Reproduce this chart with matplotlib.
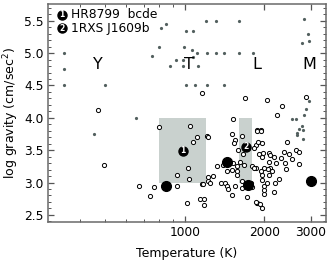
import numpy as np
import matplotlib
matplotlib.use("Agg")
import matplotlib.pyplot as plt
from matplotlib.patches import Rectangle
from matplotlib.ticker import FixedLocator, NullFormatter

# field objects: gray dots (Teff, log g)
dot_teff = [350, 350, 350, 500, 650, 453,
            753, 800, 815, 845,
            1009, 1076, 1203, 1310, 1607,
            994, 1063, 1076, 924, 980, 1108, 1210, 1313, 1409, 1607, 1812,
            876, 985, 1117,
            1006, 1095, 1210, 1409,
            2830, 2914, 2937, 2772,
            2947, 2872, 2830, 2552, 2627, 2763, 2693, 2793, 2651, 2665, 2796]
dot_logg = [5.0, 4.75, 4.5, 4.5, 4.0, 3.75,
            4.95, 5.1, 5.39, 5.45,
            5.34, 5.34, 5.5, 5.5, 5.5,
            5.1, 5.05, 4.94, 4.89, 4.89, 5.0, 5.0, 5.0, 5.0, 5.0, 5.0,
            4.8, 4.8, 4.8,
            4.5, 4.5, 4.5, 4.5,
            5.53, 5.30, 5.19, 5.15,
            4.26, 4.13, 4.05, 3.98, 3.98, 3.87, 3.82, 3.81, 3.76, 3.74, 3.67]

# young objects: open circles
ring_teff = [467, 798, 492, 668, 735, 766,
             1045, 1108, 1210, 1220, 1070, 1024, 930, 1039, 930, 1158, 1228, 1228,
             1015, 1141, 1185, 1185,
             1158, 1685, 2036, 2339, 2225, 1520, 2872,
             1508, 1648, 1866, 1933, 1542, 1530, 1588, 1663, 1850, 1886, 1950, 1818,
             1900, 1962, 1977, 2076, 2094, 2177, 2076, 2208, 2307, 1515, 1575, 1623,
             1671, 1393, 1325, 1796, 1850, 1988, 2107,
             1168, 1282, 1239, 1375, 1421, 1443, 1451, 1542, 1508, 1443, 1575, 1575,
             1508, 1718, 1866, 1880, 1962, 1988, 1988, 2000, 2046, 2171, 1962, 1962,
             2076, 1933, 2062, 2128, 2275, 1818,
             1866, 1946, 2443, 2374, 2468, 2552, 2627, 2703, 2394, 2409, 2703, 2185,
             1860, 1640, 1650, 1780, 1800, 1920]
ring_logg = [4.12, 3.86, 3.27, 2.94, 2.79, 2.93,
             3.87, 3.70, 3.72, 3.70, 3.62, 3.22, 3.11, 3.05, 2.94, 2.98, 3.02, 3.09,
             2.69, 2.75, 2.75, 2.66,
             4.38, 4.31, 4.28, 4.19, 4.04, 3.98, 4.32,
             3.75, 3.72, 3.81, 3.81, 3.66, 3.61, 3.51, 3.44, 3.58, 3.62, 3.61, 3.53,
             3.44, 3.40, 3.45, 3.46, 3.43, 3.40, 3.31, 3.30, 3.38, 3.30, 3.26, 3.31,
             3.27, 3.27, 3.26, 3.26, 3.23, 3.23, 3.23,
             2.98, 3.10, 3.00, 3.00, 2.99, 2.95, 2.90, 2.95, 2.80, 3.18, 3.18, 3.12,
             3.19, 2.77, 2.68, 2.68, 2.60, 2.83, 2.88, 2.95, 2.99, 2.85, 3.04, 3.11,
             3.11, 3.18, 3.21, 3.18, 3.06, 3.23,
             3.80, 3.80, 3.63, 3.47, 3.44, 3.37, 3.50, 3.47, 3.30, 3.21, 3.29, 3.00,
             2.70, 3.02, 2.92, 3.00, 2.93, 2.67]

# big black dots
big_teff = [850, 1443, 1730, 3000]
big_logg = [2.95, 3.32, 2.96, 3.03]

# shaded boxes: (teff_lo, teff_hi), (logg_lo, logg_hi)
box_teff = [(800, 1200), (1600, 1800)]
box_logg = [(3.0, 4.0), (3.0, 4.0)]

# numbered labels for the boxes
num_labels = ["1", "2"]
num_teff = [985, 1710]
num_logg = [3.49, 3.55]

names = ["HR8799  bcde", "1RXS J1609b"]

sp_letters = ["Y", "T", "L", "M"]
sp_teff = [467, 1039, 1878, 2960]
sp_logg = 4.82

fig = plt.figure(figsize=(3.33, 2.63), dpi=100)
ax = fig.add_axes([0.144, 0.156, 0.835, 0.829])

for (t0, t1), (g0, g1) in zip(box_teff, box_logg):
    ax.add_patch(Rectangle((t0, g0), t1 - t0, g1 - g0, facecolor="#c9d1ce",
                           edgecolor="none", zorder=1))

ax.plot(dot_teff, dot_logg, "o", ms=2.3, color="#53605f", mec="none", zorder=2)
ax.plot(ring_teff, ring_logg, "o", ms=3.0, mfc="white", mec="black", mew=0.7, zorder=3)
ax.plot(big_teff, big_logg, "o", ms=7, color="black", zorder=4)

for lab, t, g in zip(num_labels, num_teff, num_logg):
    ax.plot(t, g, "o", ms=6.5, color="black", zorder=5)
    ax.text(t, g, lab, color="white", fontsize=5.5, fontweight="bold",
            ha="center", va="center", zorder=6)

for lab, t in zip(sp_letters, sp_teff):
    ax.text(t, sp_logg, lab, fontsize=11.5, ha="center", va="center", zorder=6)

# legend in the top-left corner
for i, (lab, nm) in enumerate(zip(num_labels, names)):
    yy = 0.95 - i * 0.061
    ax.plot(0.049, yy, "o", ms=6.5, color="black", transform=ax.transAxes,
            clip_on=False, zorder=5)
    ax.text(0.049, yy, lab, color="white", fontsize=5.5, fontweight="bold",
            ha="center", va="center", transform=ax.transAxes, zorder=6)
    ax.text(0.083, yy, nm, fontsize=8.8, ha="left", va="center",
            transform=ax.transAxes)

ax.set_xscale("log")
ax.set_xlim(303, 3420)
ax.set_ylim(2.39, 5.76)

ax.xaxis.set_major_locator(FixedLocator([1000, 2000, 3000]))
ax.xaxis.set_minor_locator(FixedLocator([400, 500, 600, 700, 800, 900]))
ax.set_xticklabels(["1000", "2000", "3000"])
ax.xaxis.set_minor_formatter(NullFormatter())
ax.set_yticks([2.5, 3.0, 3.5, 4.0, 4.5, 5.0, 5.5])
ax.set_yticklabels(["2.5", "3.0", "3.5", "4.0", "4.5", "5.0", "5.5"])
ax.set_yticks(np.arange(2.4, 5.76, 0.1), minor=True)

ax.tick_params(which="both", direction="in", top=True, right=True,
               color="#555555", labelsize=8.8, pad=3)
ax.tick_params(which="major", length=4, width=0.9)
ax.tick_params(which="minor", length=2, width=0.7)
for s in ax.spines.values():
    s.set_color("#6a6a6a")
    s.set_linewidth(1.1)

ax.set_xlabel("Temperature (K)", fontsize=9, labelpad=6)
ax.set_ylabel("log gravity (cm/sec$^2$)", fontsize=9, labelpad=2)

fig.savefig("out.png", dpi=100)
